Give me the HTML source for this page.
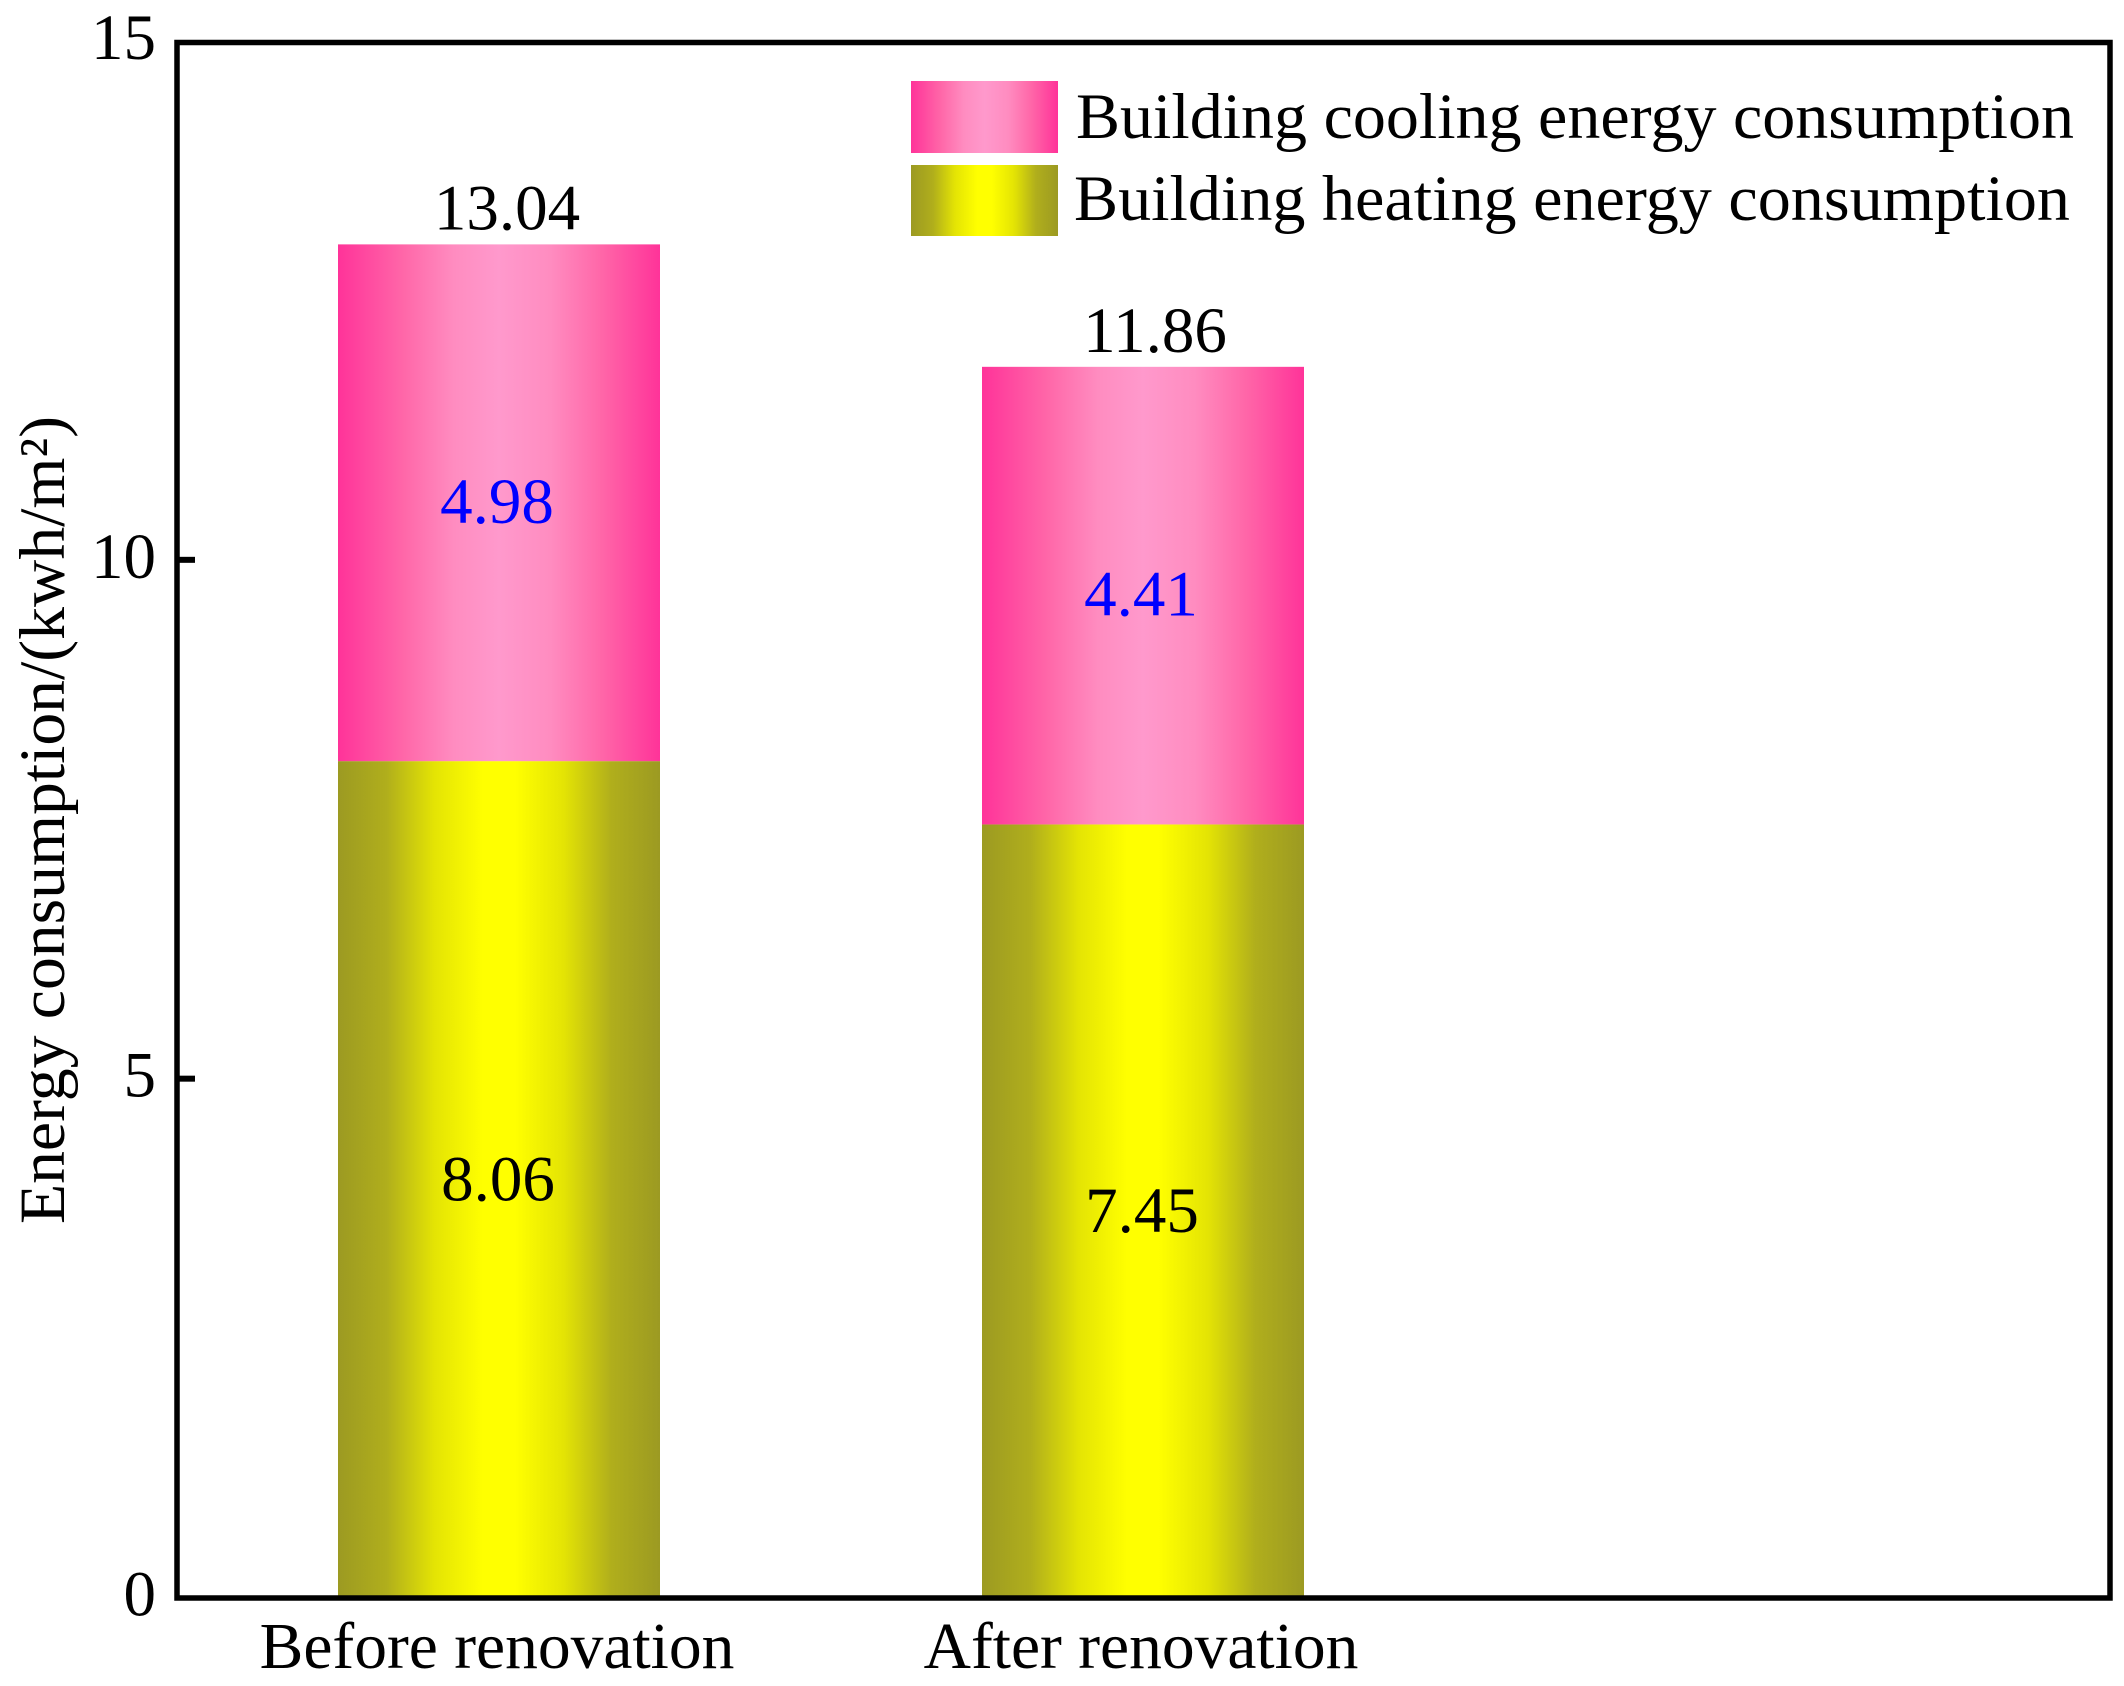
<!DOCTYPE html>
<html>
<head>
<meta charset="utf-8">
<title>Energy consumption before and after renovation</title>
<style>
html,body{margin:0;padding:0;background:#fff;}
svg{display:block;}
text{font-family:"Liberation Serif",serif;font-size:65px;fill:#000;}
</style>
</head>
<body>
<svg id="chart" xmlns="http://www.w3.org/2000/svg" width="2124" height="1686" viewBox="0 0 2124 1686">
  <defs>
    <linearGradient id="pink" x1="0" x2="1" y1="0" y2="0">
      <stop offset="0" stop-color="#ff3399"/>
      <stop offset="0.2" stop-color="#ff66a8"/>
      <stop offset="0.36" stop-color="#ff8cc0"/>
      <stop offset="0.5" stop-color="#ff99cc"/>
      <stop offset="0.66" stop-color="#ff8cc0"/>
      <stop offset="0.82" stop-color="#ff66a8"/>
      <stop offset="1" stop-color="#ff3399"/>
    </linearGradient>
    <linearGradient id="olive" x1="0" x2="1" y1="0" y2="0">
      <stop offset="0" stop-color="#9c9a22"/>
      <stop offset="0.15" stop-color="#b0ae1c"/>
      <stop offset="0.3" stop-color="#e4e404"/>
      <stop offset="0.45" stop-color="#ffff00"/>
      <stop offset="0.55" stop-color="#ffff00"/>
      <stop offset="0.7" stop-color="#e4e404"/>
      <stop offset="0.85" stop-color="#b0ae1c"/>
      <stop offset="1" stop-color="#9c9a22"/>
    </linearGradient>
  </defs>
  <rect x="0" y="0" width="2124" height="1686" fill="#ffffff"/>
  <g id="marks"></g>
  <rect x="177" y="42.5" width="1933" height="1555.5" fill="none" stroke="#000" stroke-width="5.5"/>
  <g id="axis"></g>
  <text transform="translate(64,1224) rotate(-90)" textLength="808" lengthAdjust="spacingAndGlyphs">Energy consumption/(kwh/m²)</text>
  <g>
    <rect x="911" y="81" width="147" height="72" fill="url(#pink)"/>
    <text x="1076" y="138" textLength="998" lengthAdjust="spacingAndGlyphs">Building cooling energy consumption</text>
    <rect x="911" y="165" width="147" height="71" fill="url(#olive)"/>
    <text x="1074" y="220" textLength="996" lengthAdjust="spacingAndGlyphs">Building heating energy consumption</text>
  </g>
</svg>
<script>
const categories = ["Before renovation", "After renovation"];
const heating = [8.06, 7.45];
const cooling = [4.98, 4.41];
const totals = [13.04, 11.86];
const yTicks = [0, 5, 10, 15];

const NS = "http://www.w3.org/2000/svg";
const marks = document.getElementById("marks");
const axis = document.getElementById("axis");

function yScale(v) {
  return 1597.5 - (v / 15) * 1556.5;
}
function barLeft(i) {
  return 338 + i * 644;
}
function barCenter(i) {
  return barLeft(i) + 161;
}
const barWidth = 322;

function makeRect(parent, x, y, w, h, fill) {
  const r = document.createElementNS(NS, "rect");
  r.setAttribute("x", x);
  r.setAttribute("y", y);
  r.setAttribute("width", w);
  r.setAttribute("height", h);
  r.setAttribute("fill", fill);
  parent.appendChild(r);
  return r;
}
function makeText(parent, x, y, anchor, str, color) {
  const t = document.createElementNS(NS, "text");
  t.setAttribute("x", x);
  t.setAttribute("y", y);
  t.setAttribute("text-anchor", anchor);
  t.style.fill = color;
  t.textContent = str;
  parent.appendChild(t);
  return t;
}

categories.forEach(function (cat, i) {
  const heatTop = yScale(heating[i]);
  const coolBase = heating[i];
  const coolTop = yScale(coolBase + cooling[i]);

  const hb = makeRect(marks, barLeft(i), heatTop, barWidth, yScale(0) - heatTop, "url(#olive)");
  
  

  const cb = makeRect(marks, barLeft(i), coolTop, barWidth, heatTop - coolTop, "url(#pink)");
  
  

  const hl = makeText(axis, barCenter(i) - 1, yScale(heating[i] / 2) + 21, "middle", heating[i].toFixed(2), "#000");
  
  

  const cl = makeText(axis, barCenter(i) - 2, yScale(coolBase + cooling[i] / 2) + 20, "middle", cooling[i].toFixed(2), "#0000ff");
  
  

  const tl = makeText(axis, barCenter(i) + 8 + i * 4, yScale(totals[i]) - 15, "middle", totals[i].toFixed(2), "#000");
  
  

  const xl = makeText(axis, barCenter(i) - 2, 1668, "middle", cat, "#000");
  xl.style.fontSize = "65.5px";
  
  
});

yTicks.forEach(function (v) {
  if (v > yTicks[0] && v < yTicks[yTicks.length - 1]) {
    const tick = makeRect(axis, 177, yScale(v) - 3, 18, 6, "#000");
    
    
  }

  const lab = makeText(axis, 156, yScale(v) + 18, "end", String(v), "#000");
  
  
});
</script>
</body>
</html>
